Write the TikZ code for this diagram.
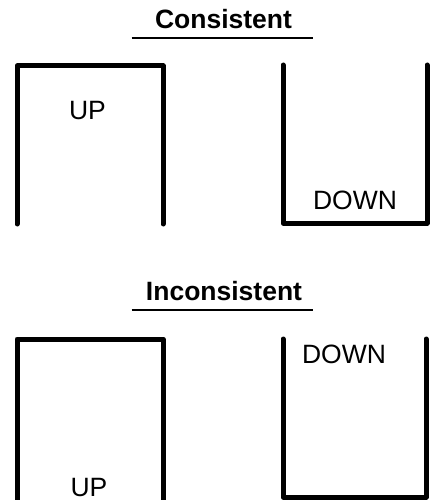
\documentclass[tikz,border=0pt]{standalone}
\usepackage{fontspec}
\setmainfont{Liberation Sans}
\begin{document}
\begin{tikzpicture}[x=1pt,y=-1pt,
  wallline/.style={line width=5pt,line cap=round,line join=round},
  titlerule/.style={line width=1.8pt},
  headtext/.style={font=\bfseries\fontsize{26.5}{30}\selectfont,anchor=base,inner sep=0pt},
  boxtext/.style={font=\fontsize{26.5}{30}\selectfont,anchor=base,inner sep=0pt}]
\useasboundingbox (0,0) rectangle (431,500);
\clip (0,0) rectangle (431,500);

% --- Consistent pair ---
\node[headtext] (tConsistent) at (223.5,28.3) {Consistent};
\coordinate (r1a) at (131.7,37.7);
\coordinate (r1b) at (313.3,37.7);
\draw[titlerule] (r1a) -- (r1b);

% inverted U with the word near the top
\coordinate (a1) at (17,224);
\coordinate (a2) at (17,66);
\coordinate (a3) at (163,66);
\coordinate (a4) at (163,224);
\draw[wallline] (a1) -- (a2) -- (a3) -- (a4);
\node[boxtext] (up1) at (87.5,119.5) {UP};

% upright U with the word near the bottom
\coordinate (b1) at (283,65);
\coordinate (b2) at (283,223);
\coordinate (b3) at (427,223);
\coordinate (b4) at (427,65);
\draw[wallline] (b1) -- (b2) -- (b3) -- (b4);
\node[boxtext] (down1) at (355,209) {DOWN};

% --- Inconsistent pair ---
\node[headtext] (tInconsistent) at (224,300) {Inconsistent};
\coordinate (r2a) at (131.7,310.3);
\coordinate (r2b) at (313.3,310.3);
\draw[titlerule] (r2a) -- (r2b);

% inverted U with the word near the bottom
\coordinate (c1) at (17,520);
\coordinate (c2) at (17,339);
\coordinate (c3) at (163,339);
\coordinate (c4) at (163,520);
\draw[wallline] (c1) -- (c2) -- (c3) -- (c4);
\node[boxtext] (up2) at (89,496.5) {UP};

% upright U with the word near the top
\coordinate (d1) at (283,339);
\coordinate (d2) at (283,497);
\coordinate (d3) at (426,497);
\coordinate (d4) at (426,339);
\draw[wallline] (d1) -- (d2) -- (d3) -- (d4);
\node[boxtext] (down2) at (344,363.3) {DOWN};
\end{tikzpicture}
\end{document}
